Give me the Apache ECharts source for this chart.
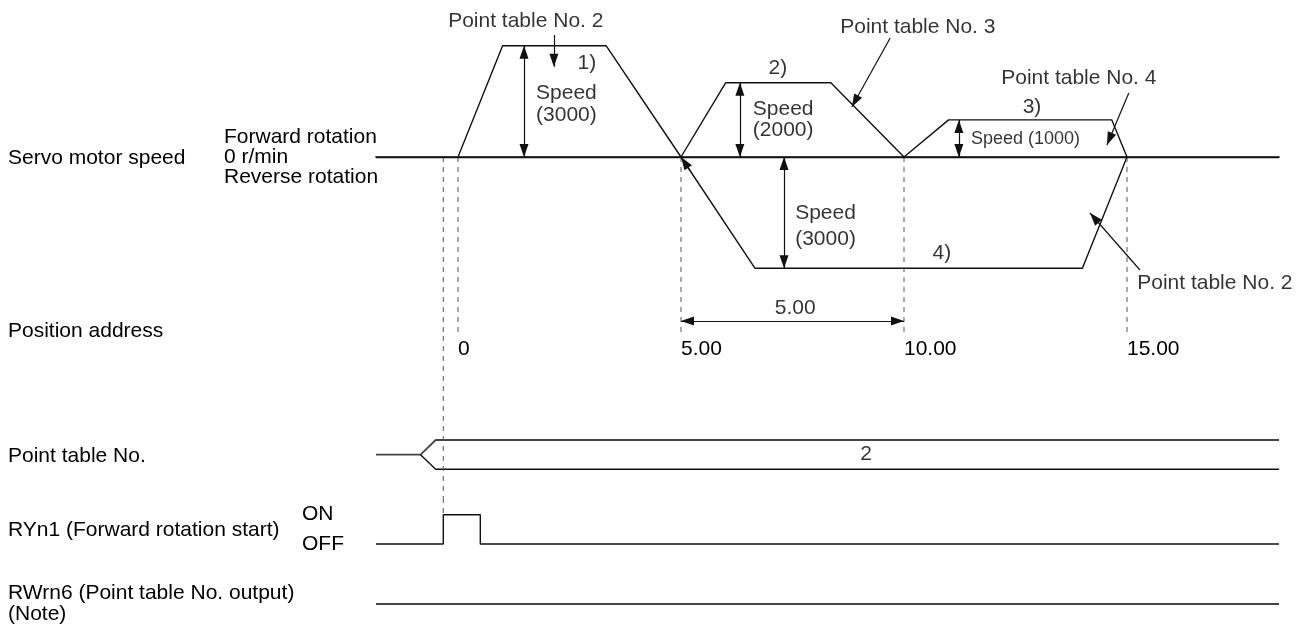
<!DOCTYPE html>
<html>
<head>
<meta charset="utf-8">
<script src="https://cdn.jsdelivr.net/npm/echarts@6/dist/echarts.min.js"></script>
<style>
  html, body { margin: 0; background: #fff; }
  #chart { width: 1306px; height: 625px; }
</style>
</head>
<body>
<div id="chart"></div>
<script>
// ---- data ----
const positionTicks = [0, 5, 10, 15];
const positionLabels = ['0', '5.00', '10.00', '15.00'];
const speedLevelLabels = ['Forward rotation', '0 r/min', 'Reverse rotation'];

// servo motor speed [r/min] on the time axis (drawn on the position address scale)
const fwdTime  = [0, 1.0, 3.32, 5.0, 6.0, 8.36, 10.0, 11.0, 14.66, 15.0];
const fwdSpeed = [0, 3000, 3000, 0, 2000, 2000, 0, 1000, 1000, 0];
const revTime  = [5.0, 6.66, 14.0, 15.0];
const revSpeed = [0, -3000, -3000, 0];

const startTime = -0.33;          // RYn1 on / point table selected
const pulseEnd = 0.5;             // RYn1 off
const busChange = [-0.84, -0.5];  // point table No. change
const pointTableNo = '2';
const ryn1Labels = ['OFF', 'ON'];
const rwrn6Level = 0;

// speed dimension arrows [time, speed]
const speedDims = [[1.48, 3000], [6.32, 2000], [11.23, 1000], [7.31, -3000]];
const speedTexts = [
  { text: 'Speed\n(3000)', at: [1.75, 1429], lh: 22 },
  { text: 'Speed\n(2000)', at: [6.61, 1011], lh: 21 },
  { text: 'Speed (1000)', at: [11.50, 485], size: 18 },
  { text: 'Speed\n(3000)', at: [7.56, -1860], lh: 26 }
];
const stepTexts = [
  { text: '1)', at: [2.89, 2534] },
  { text: '2)', at: [7.17, 2399] },
  { text: '3)', at: [12.87, 1348] },
  { text: '4)', at: [10.85, -2588] }
];
// pointer notes: text centre, arrow from -> to
const notes = [
  { text: 'Point table No. 2', at: [1.52, 3666], from: [2.15, 3288], to: [2.15, 2434] },
  { text: 'Point table No. 3', at: [10.31, 3504], from: [9.69, 3208], to: [8.83, 1348] },
  { text: 'Point table No. 4', at: [13.92, 2129], from: [15.04, 1725], to: [14.55, 323] },
  { text: 'Point table No. 2', at: [16.97, -3396], from: [15.29, -3046], to: [14.17, -1509] },
  { text: '', at: null, from: [5.2, -361], to: [5.0, 0] }
];
const travel = { text: '5.00', from: 5, to: 10, level: -4420 };

const rowTitles = [
  ['Servo motor speed', 158],
  ['Position address', 331],
  ['Point table No.', 456],
  ['RYn1 (Forward rotation start)', 530],
  ['RWrn6 (Point table No. output)\n(Note)', 604]
];

// ---- layout ----
const X0 = 458, PX = 44.6, LEFT = 376, RIGHT = 1279;
const xMin = (LEFT - X0) / PX, xMax = (RIGHT - X0) / PX;
const FONT = 'Liberation Sans, Arial, sans-serif';
const INK = '#111';

function rowAxis(top, bottom, zeroY, unitPx) {
  return { min: -(bottom - zeroY) / unitPx, max: (zeroY - top) / unitPx };
}
const rows = [
  { top: 0, bottom: 336, ax: rowAxis(0, 336, 157, 0.0371) },       // speed
  { top: 336, bottom: 498, ax: rowAxis(336, 498, 469.3, 29.3) },   // point table
  { top: 498, bottom: 575, ax: rowAxis(498, 575, 544, 29.3) },     // RYn1
  { top: 575, bottom: 625, ax: rowAxis(575, 625, 604, 29.3) }      // RWrn6
];

const zip = (a, b) => a.map((v, i) => [v, b[i]]);
const plain = (g, data, extra) => Object.assign({
  type: 'line', xAxisIndex: g, yAxisIndex: g, data, symbol: 'none', silent: true,
  itemStyle: { color: INK },
  lineStyle: { color: INK, width: 1.4 }
}, extra || {});
const guide = (g, t, y1, y2) => plain(g, [[t, y1], [t, y2]], {
  lineStyle: { color: '#555', width: 1, type: [5, 5] }
});
const textStyle = { fontFamily: FONT, fontSize: 21, color: '#000' };

// arrow segments as markLine pairs
const head = { symbol: 'triangle', symbolSize: [9, 13], symbolOffset: [0, '50%'], itemStyle: { color: INK } };
const tail = { symbol: 'none' };
const seg = (a, b, both) => [
  Object.assign({ coord: a }, both ? head : tail),
  Object.assign({ coord: b }, head)
];
const arrows = []
  .concat(speedDims.map(d => seg([d[0], 0], [d[0], d[1]], true)))
  .concat([seg([travel.from, travel.level], [travel.to, travel.level], true)])
  .concat(notes.map(n => seg(n.from, n.to, false)));

const series = [];
// speed profile + 0 r/min line
series.push(plain(0, zip(fwdTime, fwdSpeed), {
  markLine: {
    silent: true, symbol: 'none', label: { show: false },
    lineStyle: { color: INK, width: 1.4, type: 'solid' },
    data: [{ yAxis: 0 }]
  }
}));
series.push(plain(0, zip(revTime, revSpeed), {
  markLine: {
    silent: true, label: { show: false },
    lineStyle: { color: INK, width: 1.2, type: 'solid' },
    data: arrows
  }
}));
[startTime].concat(positionTicks).forEach(t => series.push(guide(0, t, 0, rows[0].ax.min)));

// texts in the speed row
const label = (at, text, opt) => ({
  value: at,
  label: Object.assign({ show: true, formatter: text, position: 'inside' }, textStyle, opt || {})
});
series.push({
  type: 'scatter', xAxisIndex: 0, yAxisIndex: 0, symbolSize: 0, silent: true,
  data: []
    .concat(speedTexts.map(s => label(s.at, s.text, {
      position: 'right', distance: 0, align: 'left', lineHeight: s.lh || 21, fontSize: s.size || 21
    })))
    .concat(stepTexts.map(s => label(s.at, s.text)))
    .concat(notes.filter(n => n.at).map(n => label(n.at, n.text)))
    .concat([label([(travel.from + travel.to) / 2 + 0.06, -4070], travel.text)])
});

// point table No. bus
series.push(plain(1, [[xMin, 0.5], [busChange[0], 0.5], [busChange[1], 1], [xMax, 1]],
  { lineStyle: { color: '#444', width: 1.8 } }));
series.push(plain(1, [[busChange[0], 0.5], [busChange[1], 0], [xMax, 0]]));
series.push(guide(1, startTime, rows[1].ax.max, rows[1].ax.min));
series.push({
  type: 'scatter', xAxisIndex: 1, yAxisIndex: 1, symbolSize: 0, silent: true,
  data: [label([9.15, 0.5], pointTableNo)]
});

// RYn1 pulse
series.push(plain(2, [[xMin, 0], [startTime, 0], [startTime, 1], [pulseEnd, 1], [pulseEnd, 0], [xMax, 0]]));
series.push(guide(2, startTime, rows[2].ax.max, 1));

// RWrn6 stays off
series.push(plain(3, [[xMin, rwrn6Level], [xMax, rwrn6Level]],
  { lineStyle: { color: '#444', width: 1.8 } }));

const hidden = { show: false };
const option = {
  animation: false,
  backgroundColor: '#fff',
  grid: rows.map(r => ({ left: LEFT, right: 1306 - RIGHT, top: r.top, height: r.bottom - r.top })),
  xAxis: rows.map((r, i) => ({
    type: 'value', gridIndex: i, min: xMin, max: xMax, show: i === 0,
    position: 'bottom',
    axisLine: { show: true, lineStyle: { color: '#444', width: 1.8 } },
    axisTick: hidden, splitLine: hidden,
    axisLabel: Object.assign({
      customValues: positionTicks,
      formatter: v => positionLabels[positionTicks.indexOf(v)],
      align: 'left', margin: 3
    }, textStyle)
  })),
  yAxis: rows.map((r, i) => {
    const a = {
      type: 'value', gridIndex: i, min: r.ax.min, max: r.ax.max,
      axisLine: hidden, axisTick: hidden, splitLine: hidden, axisLabel: hidden
    };
    if (i === 0) {
      a.axisLabel = Object.assign({
        show: true, customValues: [0], formatter: () => speedLevelLabels.join('\n'),
        align: 'left', margin: 152, lineHeight: 20
      }, textStyle);
    }
    if (i === 2) {
      a.axisLabel = Object.assign({
        show: true, customValues: [0, 1], formatter: v => ryn1Labels[v],
        align: 'left', margin: 74
      }, textStyle);
    }
    return a;
  }),
  graphic: rowTitles.map(([text, y]) => ({
    type: 'text', x: 8, y: y, silent: true,
    style: { text, fill: '#000', font: '21px ' + FONT, verticalAlign: 'middle', lineHeight: 21 }
  })),
  series
};

const chart = echarts.init(document.getElementById('chart'));
chart.setOption(option);
</script>
</body>
</html>
